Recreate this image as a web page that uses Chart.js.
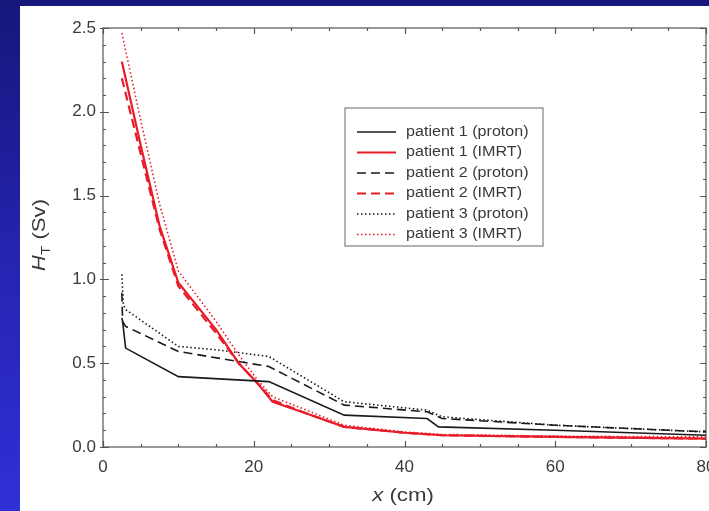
<!DOCTYPE html>
<html>
<head>
<meta charset="utf-8">
<script src="https://cdn.jsdelivr.net/npm/chart.js@4/dist/chart.umd.min.js"></script>
<style>
  html, body { margin: 0; padding: 0; width: 709px; height: 511px; overflow: hidden; }
  body { background: linear-gradient(to bottom, #16167a 0%, #2424b0 50%, #3030d8 100%); position: relative; }
  #panel { position: absolute; left: 20px; top: 6px; width: 700px; height: 505px; background: #fff; }
</style>
</head>
<body>
<div id="panel"><canvas id="chart" width="700" height="505"></canvas></div>
<script>
// tick values
var xTicks = [0, 20, 40, 60, 80];
var yTicks = [0, 0.5, 1.0, 1.5, 2.0, 2.5];

// patient 1
var p1ProtonX = [2.5, 2.6, 3, 10, 22, 32, 43, 44.5, 60, 80];
var p1ProtonY = [0.77, 0.75, 0.59, 0.42, 0.39, 0.19, 0.17, 0.12, 0.10, 0.07];
var p1ImrtX = [2.5, 5, 7.5, 10, 15, 18, 20.5, 22.5, 27, 32, 40, 45, 60, 80];
var p1ImrtY = [2.3, 1.8, 1.32, 0.98, 0.7, 0.5, 0.38, 0.27, 0.2, 0.12, 0.085, 0.07, 0.06, 0.05];

// patient 2
var p2ProtonX = [2.5, 2.6, 3, 10, 22, 32, 43, 45, 60, 80];
var p2ProtonY = [0.92, 0.75, 0.72, 0.57, 0.48, 0.25, 0.21, 0.17, 0.13, 0.09];
var p2ImrtX = [2.5, 5, 7.5, 10, 15, 18, 20.5, 22.5, 27, 32, 40, 45, 60, 80];
var p2ImrtY = [2.2, 1.75, 1.3, 0.96, 0.68, 0.5, 0.38, 0.28, 0.2, 0.12, 0.085, 0.07, 0.06, 0.05];

// patient 3
var p3ProtonX = [2.5, 2.7, 3, 10, 15, 22, 32, 43, 45, 60, 80];
var p3ProtonY = [1.03, 0.85, 0.82, 0.6, 0.58, 0.54, 0.27, 0.22, 0.18, 0.13, 0.09];
var p3ImrtX = [2.5, 5, 7.5, 10, 15, 18, 20.5, 22.5, 27, 32, 40, 45, 60, 80];
var p3ImrtY = [2.47, 1.95, 1.45, 1.05, 0.75, 0.55, 0.4, 0.3, 0.22, 0.13, 0.09, 0.075, 0.065, 0.06];

var labels = ["patient 1 (proton)", "patient 1 (IMRT)", "patient 2 (proton)",
              "patient 2 (IMRT)", "patient 3 (proton)", "patient 3 (IMRT)"];

var BLACK = "#1a1a1a";
var RED = "rgb(232,28,40)";
var TEXT = "#3a3a3a";
var FAM = "'Liberation Sans', Arial, sans-serif";

function pts(xs, ys) {
  return xs.map(function(x, i) { return { x: x, y: ys[i] }; });
}

function ds(label, xs, ys, color, dash, width) {
  return {
    label: label,
    data: pts(xs, ys),
    borderColor: color,
    borderWidth: width,
    borderDash: dash,
    pointRadius: 0,
    fill: false,
    tension: 0
  };
}

// draws pieces of text one after another, centred on 0
function runText(ctx, parts) {
  var total = 0;
  parts.forEach(function(p) { ctx.font = p.font; p.w = ctx.measureText(p.t).width; total += p.w; });
  var x = -total / 2;
  parts.forEach(function(p) { ctx.font = p.font; ctx.fillText(p.t, x, p.dy || 0); x += p.w; });
}

//frame, inner ticks, axis titles and legend
var decor = {
  id: 'decor',
  afterDraw: function(chart) {
    var ctx = chart.ctx;
    var a = chart.chartArea;
    var xs = chart.scales.x, ys = chart.scales.y;
    ctx.save();
    ctx.strokeStyle = "#555";
    ctx.lineWidth = 1.2;
    ctx.strokeRect(a.left, a.top, a.right - a.left, a.bottom - a.top);

    ctx.beginPath();
    for (var v = 0; v <= 80; v += 5) {
      var px = Math.round(xs.getPixelForValue(v)) + 0.5;
      var len = (v % 20 === 0) ? 6 : 3;
      ctx.moveTo(px, a.bottom); ctx.lineTo(px, a.bottom - len);
      ctx.moveTo(px, a.top); ctx.lineTo(px, a.top + len);
    }
    for (var k = 0; k <= 25; k++) {
      var py = Math.round(ys.getPixelForValue(k / 10)) + 0.5;
      var l2 = (k % 5 === 0) ? 6 : 3;
      ctx.moveTo(a.left, py); ctx.lineTo(a.left + l2, py);
      ctx.moveTo(a.right, py); ctx.lineTo(a.right - l2, py);
      if (k % 5 === 0) { ctx.moveTo(a.left, py); ctx.lineTo(a.left - 3, py); }
    }
    ctx.stroke();

    ctx.fillStyle = TEXT;
    ctx.textBaseline = "middle";
    ctx.textAlign = "left";

    // x title
    ctx.save();
    ctx.translate(383, 490);
    ctx.scale(1.17, 1);
    runText(ctx, [
      { t: "x", font: "italic 19px " + FAM },
      { t: " (cm)", font: "19px " + FAM }
    ]);
    ctx.restore();

    // y title
    ctx.save();
    ctx.translate(20, 229);
    ctx.rotate(-Math.PI / 2);
    ctx.scale(1.17, 1);
    runText(ctx, [
      { t: "H", font: "italic 19px " + FAM },
      { t: "T", font: "13px " + FAM, dy: 6 },
      { t: " (Sv)", font: "19px " + FAM }
    ]);
    ctx.restore();

    // legend
    ctx.strokeStyle = "#999";
    ctx.lineWidth = 1.5;
    ctx.strokeRect(325, 102, 198, 138);
    chart.data.datasets.forEach(function(d, i) {
      var y = 126 + i * 20.5;
      ctx.beginPath();
      ctx.strokeStyle = d.borderColor;
      ctx.lineWidth = d.borderWidth;
      ctx.setLineDash(d.borderDash);
      ctx.moveTo(337, y); ctx.lineTo(376, y);
      ctx.stroke();
      ctx.setLineDash([]);
      ctx.save();
      ctx.translate(386, y);
      ctx.scale(1.15, 1);
      ctx.font = "14px " + FAM;
      ctx.fillText(d.label, 0, 0);
      ctx.restore();
    });
    ctx.restore();
  }
};

new Chart(document.getElementById("chart"), {
  type: 'line',
  data: {
    datasets: [
      ds(labels[0], p1ProtonX, p1ProtonY, BLACK, [], 1.6),
      ds(labels[1], p1ImrtX, p1ImrtY, RED, [], 2.2),
      ds(labels[2], p2ProtonX, p2ProtonY, BLACK, [9, 5], 1.6),
      ds(labels[3], p2ImrtX, p2ImrtY, RED, [9, 5], 2.2),
      ds(labels[4], p3ProtonX, p3ProtonY, BLACK, [1.5, 2.5], 1.6),
      ds(labels[5], p3ImrtX, p3ImrtY, RED, [1.5, 2.5], 1.6)
    ]
  },
  options: {
    responsive: false,
    animation: false,
    layout: { autoPadding: false, padding: { top: 22, right: 14, left: 0, bottom: 0 } },
    plugins: { legend: { display: false }, tooltip: { enabled: false } },
    scales: {
      x: {
        type: 'linear',
        min: 0, max: 80,
        afterBuildTicks: function(s) { s.ticks = xTicks.map(function(v) { return { value: v }; }); },
        afterFit: function(s) { s.height = 64; s.paddingLeft = 0; s.paddingRight = 0; },
        grid: { display: false, drawTicks: false },
        border: { display: false },
        ticks: { color: TEXT, padding: 10, font: { size: 17, family: FAM } }
      },
      y: {
        min: 0, max: 2.5,
        afterBuildTicks: function(s) { s.ticks = yTicks.map(function(v) { return { value: v }; }); },
        afterFit: function(s) { s.width = 83; s.paddingTop = 0; s.paddingBottom = 0; },
        grid: { display: false, drawTicks: false },
        border: { display: false },
        ticks: {
          color: TEXT, padding: 7,
          font: { size: 17, family: FAM },
          callback: function(v) { return v.toFixed(1); }
        }
      }
    }
  },
  plugins: [decor]
});
</script>
</body>
</html>
